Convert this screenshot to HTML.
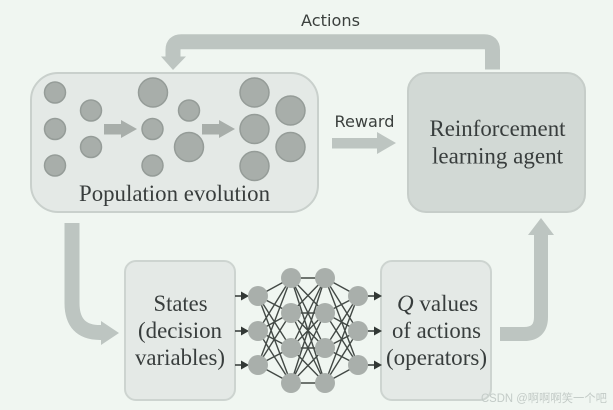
<!DOCTYPE html>
<html>
<head>
<meta charset="utf-8">
<style>
html,body{margin:0;padding:0;background:#f0f6f1}
svg{display:block}
.s{font-family:"Liberation Serif","Noto Serif CJK SC",serif;fill:#393e3c;font-size:23px}
.l{font-family:"DejaVu Sans","Liberation Sans",sans-serif;fill:#3a3f3d;font-size:16px}
</style>
</head>
<body>
<svg width="613" height="410" viewBox="0 0 613 410" xmlns="http://www.w3.org/2000/svg">
<defs><filter id="b" x="-5%" y="-5%" width="110%" height="110%"><feGaussianBlur stdDeviation="0.35"/></filter></defs>
<rect width="613" height="410" fill="#f0f6f1"/>
<g filter="url(#b)">
<!-- boxes -->
<rect x="31" y="73" width="287" height="139" rx="27" fill="#e4e9e6" stroke="#c9d0cc" stroke-width="2"/>
<rect x="408" y="73" width="177" height="139" rx="18" fill="#d2d9d5" stroke="#c6cdc9" stroke-width="2"/>
<rect x="125" y="261" width="110" height="139" rx="11" fill="#e4e9e6" stroke="#cdd4d0" stroke-width="2"/>
<rect x="381" y="261" width="110" height="139" rx="11" fill="#e4e9e6" stroke="#cdd4d0" stroke-width="2"/>

<!-- actions arrow -->
<path d="M492.500 69.500V50Q492.500 41.700 484 41.700H181.500Q173 41.700 173 50V60" fill="none" stroke="#bdc5c1" stroke-width="15"/>
<polygon points="161,56.500 186,56.500 173,70" fill="#bdc5c1"/>
<!-- reward arrow -->
<polygon points="332,138 377,138 377,132 396,143 377,154 377,148.500 332,148.500" fill="#bdc5c1"/>
<!-- down arrow -->
<path d="M72 223V303Q72 332.500 100 332.500H104" fill="none" stroke="#bdc5c1" stroke-width="15"/>
<polygon points="101,321 119,333 101,345" fill="#bdc5c1"/>
<!-- up arrow -->
<path d="M500 334H524Q541 334 541 317V232" fill="none" stroke="#bdc5c1" stroke-width="14"/>
<polygon points="528,235 541,218 554,235" fill="#bdc5c1"/>

<!-- population circles -->
<g fill="#a8aeaa" stroke="#959c98" stroke-width="1.500">
<circle cx="55" cy="92.500" r="10.500"/>
<circle cx="55" cy="129" r="10.500"/>
<circle cx="55" cy="165.500" r="10.500"/>
<circle cx="91" cy="110.500" r="10.500"/>
<circle cx="91" cy="147" r="10.500"/>
<circle cx="153" cy="92.500" r="14.500"/>
<circle cx="152.500" cy="129" r="10.500"/>
<circle cx="152.500" cy="165.500" r="10.500"/>
<circle cx="189" cy="110.500" r="10.500"/>
<circle cx="189" cy="147" r="14.500"/>
<circle cx="254.500" cy="92.500" r="14.500"/>
<circle cx="254.500" cy="129" r="14.500"/>
<circle cx="254.500" cy="166" r="14.500"/>
<circle cx="290.500" cy="110.500" r="14.500"/>
<circle cx="290.500" cy="147" r="14.500"/>
</g>
<polygon points="104,124 121,124 121,120 137,129 121,138 121,134.500 104,134.500" fill="#a8aeaa"/>
<polygon points="202,124 219,124 219,120 235,129 219,138 219,134.500 202,134.500" fill="#a8aeaa"/>

<!-- NN edges -->
<g stroke="#434845" stroke-width="1.400" fill="none">
<path d="M258 296L291 278M258 296L291 313M258 296L291 348M258 296L291 383M258 331L291 278M258 331L291 313M258 331L291 348M258 331L291 383M258 365L291 278M258 365L291 313M258 365L291 348M258 365L291 383"/>
<path d="M291 278L325 278M291 278L325 313M291 278L325 348M291 278L325 383M291 313L325 278M291 313L325 313M291 313L325 348M291 313L325 383M291 348L325 278M291 348L325 313M291 348L325 348M291 348L325 383M291 383L325 278M291 383L325 313M291 383L325 348M291 383L325 383"/>
<path d="M325 278L358 296M325 278L358 331M325 278L358 365M325 313L358 296M325 313L358 331M325 313L358 365M325 348L358 296M325 348L358 331M325 348L358 365M325 383L358 296M325 383L358 331M325 383L358 365"/>
<path d="M235 296H244M235 331H244M235 365H244M368 296H376M368 331H376M368 365H376" stroke="#333836"/>
</g>
<g fill="#333836">
<polygon points="241,291.500 249,296 241,300.500"/>
<polygon points="241,326.500 249,331 241,335.500"/>
<polygon points="241,360.500 249,365 241,369.500"/>
<polygon points="374,291.500 382,296 374,300.500"/>
<polygon points="374,326.500 382,331 374,335.500"/>
<polygon points="374,360.500 382,365 374,369.500"/>
</g>
<g fill="#a9afab">
<circle cx="258" cy="296" r="10"/><circle cx="258" cy="331" r="10"/><circle cx="258" cy="365" r="10"/>
<circle cx="291" cy="278" r="10"/><circle cx="291" cy="313" r="10"/><circle cx="291" cy="348" r="10"/><circle cx="291" cy="383" r="10"/>
<circle cx="325" cy="278" r="10"/><circle cx="325" cy="313" r="10"/><circle cx="325" cy="348" r="10"/><circle cx="325" cy="383" r="10"/>
<circle cx="358" cy="296" r="10"/><circle cx="358" cy="331" r="10"/><circle cx="358" cy="365" r="10"/>
</g>

<!-- text -->
<text class="l" x="301" y="26" textLength="59" lengthAdjust="spacingAndGlyphs">Actions</text>
<text class="l" x="334.500" y="127" textLength="60" lengthAdjust="spacingAndGlyphs">Reward</text>
<text class="s" x="79" y="201" textLength="191" lengthAdjust="spacingAndGlyphs">Population evolution</text>
<text class="s" x="429.500" y="136" textLength="136" lengthAdjust="spacingAndGlyphs">Reinforcement</text>
<text class="s" x="432" y="163.500" textLength="131" lengthAdjust="spacingAndGlyphs">learning agent</text>
<text class="s" x="153.500" y="311" textLength="54" lengthAdjust="spacingAndGlyphs">States</text>
<text class="s" x="138" y="338" textLength="84" lengthAdjust="spacingAndGlyphs">(decision</text>
<text class="s" x="135" y="365" textLength="90" lengthAdjust="spacingAndGlyphs">variables)</text>
<text class="s" x="397" y="311"><tspan font-style="italic">Q</tspan> values</text>
<text class="s" x="392" y="338" textLength="89" lengthAdjust="spacingAndGlyphs">of actions</text>
<text class="s" x="386" y="365" textLength="101" lengthAdjust="spacingAndGlyphs">(operators)</text>
<text x="481" y="402" font-size="11.500" fill="#c3cbc7" font-family="'Liberation Sans','Noto Sans CJK SC',sans-serif" textLength="126" lengthAdjust="spacingAndGlyphs">CSDN @啊啊啊笑一个吧</text>
</g>
</svg>
</body>
</html>
